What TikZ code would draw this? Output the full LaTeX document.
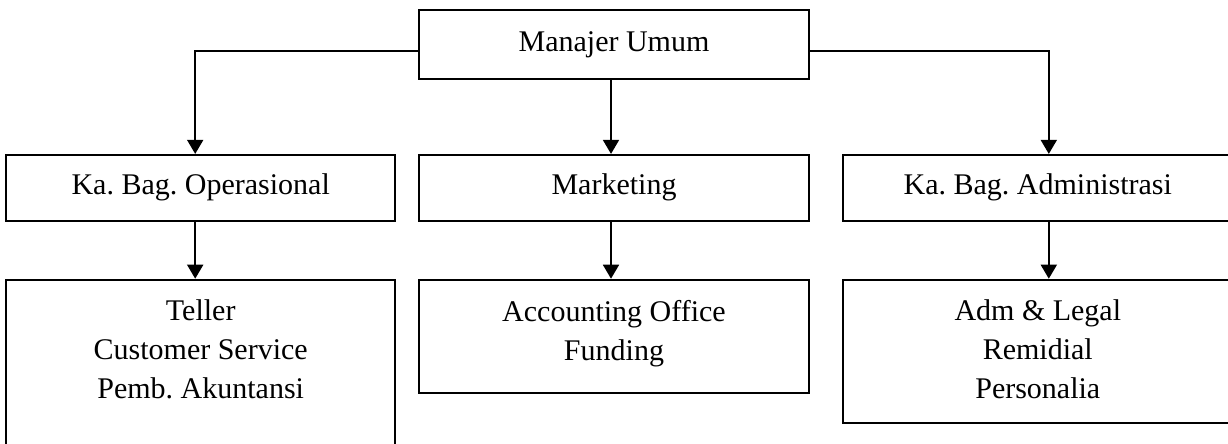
\documentclass[tikz,border=0pt]{standalone}
\usepackage{fontspec}
\setmainfont{Liberation Serif}
\usetikzlibrary{arrows.meta, positioning}
\frenchspacing

\begin{document}
\begin{tikzpicture}[
    x=1pt, y=-1pt,
    node distance=57pt and 22pt,
    box/.style={rectangle, draw, line width=1.8pt, minimum width=390pt, minimum height=66pt, inner sep=0pt, align=center, font=\fontsize{30}{39}\selectfont},
    unitbox/.style={box, minimum height=#1},
    txt/.style={anchor=north, inner sep=0pt, align=center, font=\fontsize{30}{39}\selectfont},
    arrow/.style={-{Triangle[length=14pt, width=16pt]}, line width=1.8pt}
  ]
    \useasboundingbox (0,0) rectangle (1228,444);

    % Top
    \node[box, minimum height=69pt] (manajer) at (614,44.5) {Manajer Umum};

    % Second level
    \node[box, below=74pt of manajer] (marketing) {Marketing};
    \node[box, left=22pt of marketing, minimum width=389pt] (opr) {Ka. Bag. Operasional};
    \node[box, right=32pt of marketing] (adm) {Ka. Bag. Administrasi};

    % Third level
    \node[unitbox=180pt, below=of opr, minimum width=389pt] (teller) {};
    \node[unitbox=113pt, below=of marketing] (acct) {};
    \node[unitbox=143pt, below=of adm] (legal) {};
    \node[txt] (teller_txt) at ([yshift=-21pt]teller.north) {Teller\\Customer Service\\Pemb. Akuntansi};
    \node[txt] (acct_txt) at ([yshift=-21pt]acct.north) {Accounting Office\\Funding};
    \node[txt] (legal_txt) at ([yshift=-21pt]legal.north) {Adm \& Legal\\Remidial\\Personalia};

    % Arrows
    \draw[arrow] ([yshift=-6.5pt]manajer.west) -| ([xshift=-5.5pt]opr.north);
    \draw[arrow] ([xshift=-3pt]manajer.south) -- ([xshift=-3pt]marketing.north);
    \draw[arrow] ([yshift=-6.5pt]manajer.east) -| ([xshift=11pt]adm.north);
    \draw[arrow] ([xshift=-5.5pt]opr.south) -- ([xshift=-5.5pt]teller.north);
    \draw[arrow] ([xshift=-3pt]marketing.south) -- ([xshift=-3pt]acct.north);
    \draw[arrow] ([xshift=11pt]adm.south) -- ([xshift=11pt]legal.north);
  \end{tikzpicture}
\end{document}
